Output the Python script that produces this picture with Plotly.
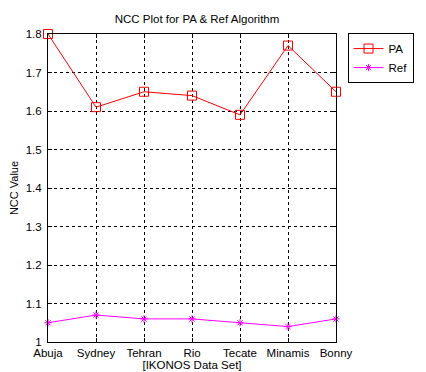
import plotly.graph_objects as go

categories = ["Abuja", "Sydney", "Tehran", "Rio", "Tecate", "Minamis", "Bonny"]
pa_values = [1.80, 1.61, 1.65, 1.64, 1.59, 1.77, 1.65]
ref_values = [1.05, 1.07, 1.06, 1.06, 1.05, 1.04, 1.06]
y_ticks = [1.0, 1.1, 1.2, 1.3, 1.4, 1.5, 1.6, 1.7, 1.8]
y_ticklabels = ["1", "1.1", "1.2", "1.3", "1.4", "1.5", "1.6", "1.7", "1.8"]

font = dict(family="Liberation Sans, Arial, sans-serif", size=11, color="#000000")

fig = go.Figure()
fig.add_trace(go.Scatter(
    x=categories, y=pa_values, name="PA", mode="lines+markers", cliponaxis=False,
    line=dict(color="#ff0000", width=1),
    marker=dict(symbol="square-open", size=9, color="#ff0000", line=dict(width=1)),
))
fig.add_trace(go.Scatter(
    x=categories, y=ref_values, name="Ref", mode="lines+markers", cliponaxis=False,
    line=dict(color="#ff00ff", width=1),
    marker=dict(symbol="asterisk-open", size=6, color="#ff00ff", line=dict(width=1, color="#ff00ff")),
))

fig.update_layout(
    width=426, height=372,
    margin=dict(l=48, r=80, t=34, b=30),
    paper_bgcolor="white", plot_bgcolor="white",
    font=font,
    title=dict(text="NCC Plot for PA & Ref Algorithm", x=(48 + 346) / 2 / 426, xanchor="center",
               y=1 - 19 / 372, yanchor="middle", font=dict(size=11.5)),
    legend=dict(x=1.04, y=1.003, xanchor="left", yanchor="top",
                bordercolor="#000000", borderwidth=1, bgcolor="white",
                font=dict(size=11.5), itemwidth=30, tracegroupgap=0),
    showlegend=True,
)
fig.update_xaxes(
    type="category", range=[0, 6], showgrid=True, gridcolor="#000000", griddash="dot", gridwidth=1,
    showline=True, linecolor="#000000", linewidth=1, mirror="ticks", automargin=False,
    ticks="inside", ticklen=4, tickcolor="#000000", ticklabelstandoff=0,
    tickfont=dict(size=11.5),
    title=dict(text="[IKONOS Data Set]", standoff=1, font=dict(size=11.5)),
    zeroline=False,
)
fig.update_yaxes(
    range=[1.0, 1.8], tickvals=y_ticks, ticktext=y_ticklabels, automargin=False,
    showgrid=True, gridcolor="#000000", griddash="dot", gridwidth=1,
    showline=True, linecolor="#000000", linewidth=1, mirror="ticks",
    ticks="inside", ticklen=4, tickcolor="#000000", ticklabelstandoff=3,
    tickfont=dict(size=11.5),
    title=dict(text="NCC Value", standoff=4, font=dict(size=11)),
    zeroline=False,
)
fig.write_html("out.html")
